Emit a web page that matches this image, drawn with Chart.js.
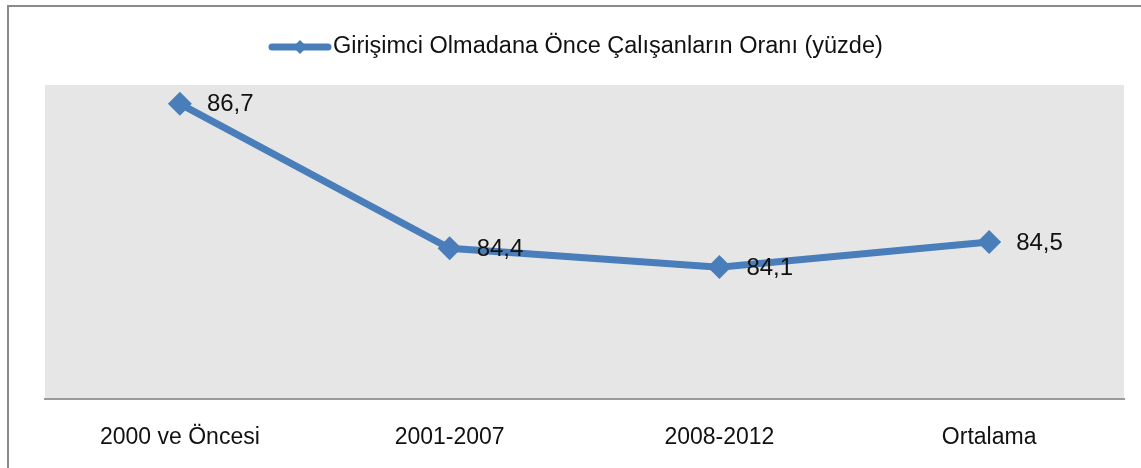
<!DOCTYPE html>
<html lang="tr">
<head>
<meta charset="UTF-8">
<title>Girişimci Olmadana Önce Çalışanların Oranı</title>
<script src="https://cdn.jsdelivr.net/npm/chart.js"></script>
<style>
    body {
        margin: 0;
        background: #fff;
        overflow: hidden;
    }
    .frame {
        position: absolute;
        left: 7px;
        top: 5px;
        width: 1300px;
        height: 600px;
        border: 2px solid #8a8a8a;
    }
    .wrap {
        position: absolute;
        left: 0;
        top: 0;
        width: 1141px;
        height: 468px;
    }
</style>
</head>
<body>
<div class="frame"></div>
<div class="wrap"><canvas id="grafik"></canvas></div>

<script>
const donemler = ['2000 ve Öncesi', '2001-2007', '2008-2012', 'Ortalama'];
const oranlar = [86.7, 84.4, 84.1, 84.5];
const seriAdi = 'Girişimci Olmadana Önce Çalışanların Oranı (yüzde)';

const MAVI = '#4a7ebb';
const YAZI = "'Liberation Sans', Arial, sans-serif";

// gri çizim alanı
const arkaPlan = {
  id: 'arkaPlan',
  beforeDraw(chart) {
    const { ctx, chartArea: a } = chart;
    ctx.save();
    ctx.fillStyle = '#e6e6e6';
    ctx.fillRect(a.left, a.top, a.right - a.left, a.bottom - a.top);
    ctx.restore();
  }
};

// nokta etiketleri ve üstteki lejant
const etiketler = {
  id: 'etiketler',
  afterDatasetsDraw(chart) {
    const ctx = chart.ctx;
    const meta = chart.getDatasetMeta(0);
    ctx.save();
    ctx.font = '24px ' + YAZI;
    ctx.fillStyle = '#111';
    ctx.textBaseline = 'middle';
    meta.data.forEach((p, i) => {
      const txt = oranlar[i].toFixed(1).replace('.', ',');
      ctx.fillText(txt, p.x + 27, p.y + 1);
    });

    // lejant
    const ly = 47;
    ctx.strokeStyle = MAVI;
    ctx.lineWidth = 7;
    ctx.lineCap = 'round';
    ctx.beginPath();
    ctx.moveTo(272, ly);
    ctx.lineTo(328, ly);
    ctx.stroke();
    ctx.fillStyle = MAVI;
    ctx.beginPath();
    ctx.moveTo(300, ly - 7);
    ctx.lineTo(307, ly);
    ctx.lineTo(300, ly + 7);
    ctx.lineTo(293, ly);
    ctx.closePath();
    ctx.fill();
    ctx.fillStyle = '#111';
    ctx.font = '23.5px ' + YAZI;
    ctx.fillText(seriAdi, 333, ly);
    ctx.restore();
  }
};

new Chart(document.getElementById('grafik'), {
  type: 'line',
  data: {
    labels: donemler,
    datasets: [{
      label: seriAdi,
      data: oranlar,
      borderColor: MAVI,
      backgroundColor: MAVI,
      borderWidth: 7,
      pointStyle: 'rectRot',
      pointRadius: 12,
      pointBorderWidth: 0,
      tension: 0
    }]
  },
  options: {
    responsive: true,
    maintainAspectRatio: false,
    animation: false,
    layout: { padding: { left: 45, right: 17, top: 85, bottom: 20 } },
    plugins: {
      legend: { display: false },
      tooltip: { enabled: false }
    },
    scales: {
      x: {
        offset: true,
        grid: { display: false, drawTicks: false },
        border: { display: true, color: '#9a9a9a', width: 2 },
        afterFit(scale) { scale.height = 49; },
        ticks: {
          color: '#111',
          padding: 25,
          maxRotation: 0,
          font: { size: 23, family: YAZI }
        }
      },
      y: {
        display: false,
        min: 82,
        max: 87
      }
    }
  },
  plugins: [arkaPlan, etiketler]
});
</script>
</body>
</html>
